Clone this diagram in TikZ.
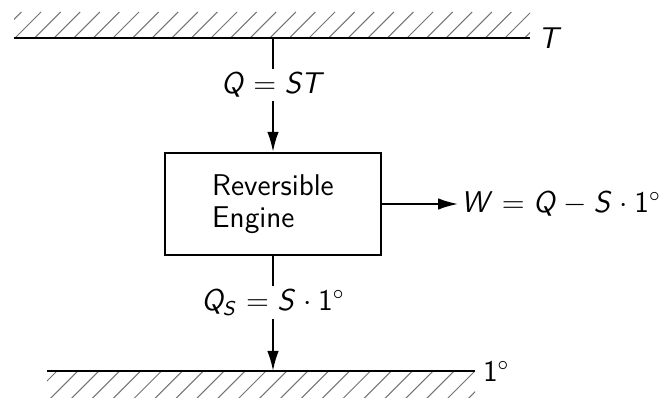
\documentclass[tikz,border=0pt]{standalone}
\usetikzlibrary{arrows.meta,positioning}
\DeclareMathAlphabet{\mathsfit}{OT1}{cmss}{m}{sl}
\DeclareMathAlphabet{\mathsfup}{OT1}{cmss}{m}{n}
\newcommand{\sv}[1]{\mathsfit{#1}}
\newcommand{\onedeg}{\mathsfup{1}^\circ}

\begin{document}
\begin{tikzpicture}[x=0.4pt,y=-0.4pt,
  font=\fontsize{12}{12.8}\selectfont\sffamily, >={Latex[length=8pt,width=4.6pt]},
  wall/.style={line width=1.1pt},
  hatch/.style={line width=0.4pt,black!55},
  engbox/.style={draw,line width=0.9pt,minimum width=86.4pt,minimum height=40.8pt,align=left},
  flow/.style={->,line width=0.8pt},
  lbl/.style={fill=white,inner sep=1.5pt}]
\useasboundingbox (0,0) rectangle (666,398);
% reservoirs
\coordinate (hotL) at (14,38);
\coordinate (hotR) at (530,38);
\coordinate (coldL) at (47,371);
\coordinate (coldR) at (475,371);
\begin{scope}
  \clip (hotL) rectangle (530,12);
  \foreach \i in {-1,...,27} \draw[hatch] (15+19.6*\i,38) -- ++(26,-26);
\end{scope}
\begin{scope}
  \clip (coldL) rectangle (475,398);
  \foreach \i in {0,...,22} \draw[hatch] (57+20.9*\i,371) -- ++(-28,28);
\end{scope}
\draw[wall] (hotL) -- (hotR);
\draw[wall] (coldL) -- (coldR);
\node[right=2pt of hotR,inner sep=1pt] (hotT) {$\sv{T}$};
\node[right=2pt of coldR,inner sep=1pt] (coldT) {$\onedeg$};
% engine
\node[engbox] (engine) at (273,204) {Reversible\\Engine};
\node[right=30.4pt of engine,inner sep=1pt] (work) {$\sv{W} = \sv{Q} - \sv{S}\cdot\onedeg$};
\coordinate (hotTap) at (273,38);
\coordinate (coldTap) at (273,371);
\draw[flow] (hotTap) -- node[lbl,pos=0.41] (qin) {$\sv{Q} = \sv{ST}$} (engine.north);
\draw[flow] (engine.south) -- node[lbl,pos=0.405] (qout) {$\sv{Q}_{\sv{S}} = \sv{S}\cdot\onedeg$} (coldTap);
\draw[flow] (engine) -- (work);
\end{tikzpicture}
\end{document}
